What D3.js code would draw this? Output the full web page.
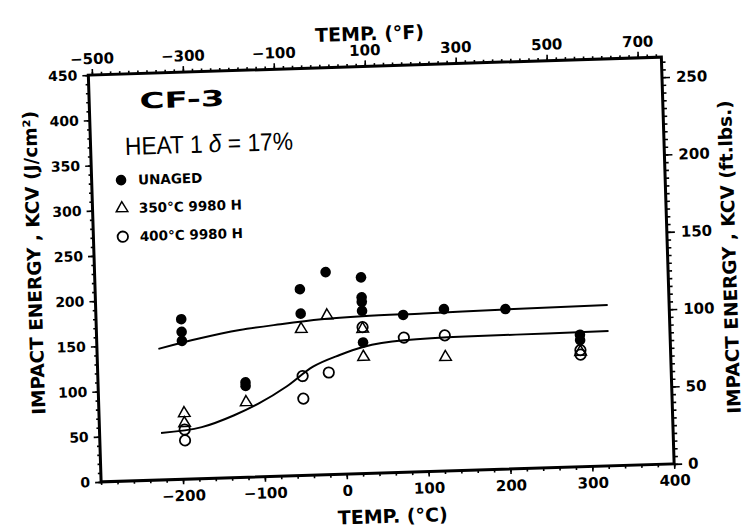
<!DOCTYPE html>
<html><head><meta charset="utf-8">
<script src="https://cdn.jsdelivr.net/npm/d3@7"></script>
<style>body{margin:0;background:#fff}</style>
</head><body>
<svg id="c" width="744" height="530"></svg>
<script>
// ---- data ----
const unagedT   = [-196,-196,-196,-120,-120,-50,-50,-18,25,25,25,25,25,75,125,200,290,290];
const unagedKCV = [177,163,153,105,101,206,179,224,217,195,190,180,145,174,179,177,146,140];
const aged350T   = [-196,-196,-120,-50,-18,25,25,125,290];
const aged350KCV = [73,62,83,162,176,160,129,126,127];
const aged400T   = [-196,-196,-50,-50,-18,25,75,125,290,290];
const aged400KCV = [55,43,110,85,113,162,149,150,129,124];
const fitUpT   = [-225,-175,-125,-75,-25,25,100,200,325];
const fitUpKCV = [145,155,163,168,172,174,175,176.5,178];
const fitLowT   = [-225,-175,-135,-105,-70,-37,-4,25,75,150,250,325];
const fitLowKCV = [52,57,69,81,99,120,132,140,146,148,148.5,149];
const bottomTicks = [-200,-100,0,100,200,300,400];
const topTicksF = [-500,-300,-100,100,300,500,700];
const leftTicks = [0,50,100,150,200,250,300,350,400,450];
const rightTicks = [0,50,100,150,200,250];
const legendLabels = ["UNAGED","350°C 9980 H","400°C 9980 H"];

const svg = d3.select("#c");
const m = {l:94.6, r:667.9, t:66, b:473};
const g = svg.append("g").attr("transform","rotate(-1.8,381,270)");
const FONT = "'DejaVu Sans', Verdana, sans-serif";

const x = d3.scaleLinear().domain([-300,400]).range([m.l,m.r]);
const xF = d3.scaleLinear().domain([-300*9/5+32, 400*9/5+32]).range([m.l,m.r]);
const y = d3.scaleLinear().domain([0,450]).range([m.b,m.t]);
const yR = d3.scaleLinear().domain([0,263]).range([m.b,m.t]);

function styleAxis(sel, fs){
  sel.select(".domain").remove();
  sel.selectAll("line").attr("stroke","#000").attr("stroke-width",1.6);
  sel.selectAll("text").attr("font-family",FONT).attr("font-weight","bold")
     .attr("font-size",fs).attr("fill","#000");
}
// minor ticks
styleAxis(g.append("g").attr("transform",`translate(0,${m.b})`)
  .call(d3.axisBottom(x).tickValues(d3.range(-300,401,20)).tickSize(3).tickFormat("")),15);
styleAxis(g.append("g").attr("transform",`translate(0,${m.t})`)
  .call(d3.axisTop(xF).tickValues(d3.range(-500,741,20)).tickSize(3).tickFormat("")),15);
styleAxis(g.append("g").attr("transform",`translate(${m.l},0)`)
  .call(d3.axisLeft(y).tickValues(d3.range(0,451,10)).tickSize(3).tickFormat("")),15);
styleAxis(g.append("g").attr("transform",`translate(${m.r},0)`)
  .call(d3.axisRight(yR).tickValues(d3.range(0,261,5)).tickSize(4).tickFormat("")),15);
// major ticks
styleAxis(g.append("g").attr("transform",`translate(0,${m.b})`)
  .call(d3.axisBottom(x).tickValues(bottomTicks).tickSize(5).tickPadding(6).tickFormat(d3.format("d"))),15);
styleAxis(g.append("g").attr("transform",`translate(0,${m.t})`)
  .call(d3.axisTop(xF).tickValues(topTicksF).tickSize(6).tickPadding(5).tickFormat(d3.format("d"))),15);
styleAxis(g.append("g").attr("transform",`translate(${m.l},0)`)
  .call(d3.axisLeft(y).tickValues(leftTicks).tickSize(6).tickPadding(5).tickFormat(d3.format("d"))),14);
styleAxis(g.append("g").attr("transform",`translate(${m.r},0)`)
  .call(d3.axisRight(yR).tickValues(rightTicks).tickSize(8).tickPadding(6).tickFormat(d3.format("d"))),15);

// frame
g.append("rect").attr("x",m.l).attr("y",m.t).attr("width",m.r-m.l).attr("height",m.b-m.t)
  .attr("fill","none").attr("stroke","#000").attr("stroke-width",3);

// fit curves
const line = d3.line().x(d=>x(d[0])).y(d=>y(d[1])).curve(d3.curveMonotoneX);
g.append("path").attr("d",line(d3.zip(fitUpT,fitUpKCV))).attr("fill","none").attr("stroke","#000").attr("stroke-width",2);
g.append("path").attr("d",line(d3.zip(fitLowT,fitLowKCV))).attr("fill","none").attr("stroke","#000").attr("stroke-width",2);

// points
const tri = d3.symbol().type(d3.symbolTriangle).size(58);
g.append("g").selectAll("path").data(d3.zip(aged350T,aged350KCV)).join("path")
  .attr("d",tri).attr("transform",d=>`translate(${x(d[0])},${y(d[1])})`)
  .attr("fill","none").attr("stroke","#000").attr("stroke-width",1.5);
g.append("g").selectAll("circle").data(d3.zip(aged400T,aged400KCV)).join("circle")
  .attr("cx",d=>x(d[0])).attr("cy",d=>y(d[1])).attr("r",5.2)
  .attr("fill","none").attr("stroke","#000").attr("stroke-width",1.8);
g.append("g").selectAll("circle").data(d3.zip(unagedT,unagedKCV)).join("circle")
  .attr("cx",d=>x(d[0])).attr("cy",d=>y(d[1])).attr("r",5.3).attr("fill","#000");

// texts
g.append("text").attr("x",145).attr("y",101).attr("font-family",FONT).attr("font-weight","bold")
  .attr("font-size",22).attr("textLength",85).attr("lengthAdjust","spacingAndGlyphs").text("CF-3");
const heat = g.append("text").attr("x",129).attr("y",147)
  .attr("font-family","'Liberation Sans Narrow', 'Arial Narrow', 'Liberation Sans', sans-serif").attr("font-size",25)
  .attr("textLength",168).attr("lengthAdjust","spacingAndGlyphs");
heat.append("tspan").text("HEAT 1  ");
heat.append("tspan").attr("font-style","italic").text("δ");
heat.append("tspan").text(" = 17%");

const legY = [172,200.2,228.6];
const legX = 124;
g.append("circle").attr("cx",legX).attr("cy",legY[0]).attr("r",5.3).attr("fill","#000");
g.append("path").attr("d",tri).attr("transform",`translate(${legX},${legY[1]})`)
  .attr("fill","none").attr("stroke","#000").attr("stroke-width",1.5);
g.append("circle").attr("cx",legX).attr("cy",legY[2]).attr("r",5.2)
  .attr("fill","none").attr("stroke","#000").attr("stroke-width",1.8);
legendLabels.forEach((t,i)=>{
  g.append("text").attr("x",141).attr("y",legY[i]+5).attr("font-family",FONT)
   .attr("font-weight","bold").attr("font-size",13.5).text(t);
});

// axis titles
g.append("text").attr("x",377).attr("y",40).attr("text-anchor","middle").attr("font-family",FONT)
  .attr("font-weight","bold").attr("font-size",19).text("TEMP. (°F)");
g.append("text").attr("x",385).attr("y",523).attr("text-anchor","middle").attr("font-family",FONT)
  .attr("font-weight","bold").attr("font-size",19).text("TEMP. (°C)");
g.append("text").attr("transform","translate(41,252) rotate(-90)").attr("text-anchor","middle")
  .attr("font-family",FONT).attr("font-weight","bold").attr("font-size",18.5)
  .text("IMPACT ENERGY , KCV (J/cm²)");
g.append("text").attr("transform","translate(736,268) rotate(-90)").attr("text-anchor","middle")
  .attr("font-family",FONT).attr("font-weight","bold").attr("font-size",18.5)
  .text("IMPACT ENERGY , KCV (ft.lbs.)");
</script>
</body></html>
